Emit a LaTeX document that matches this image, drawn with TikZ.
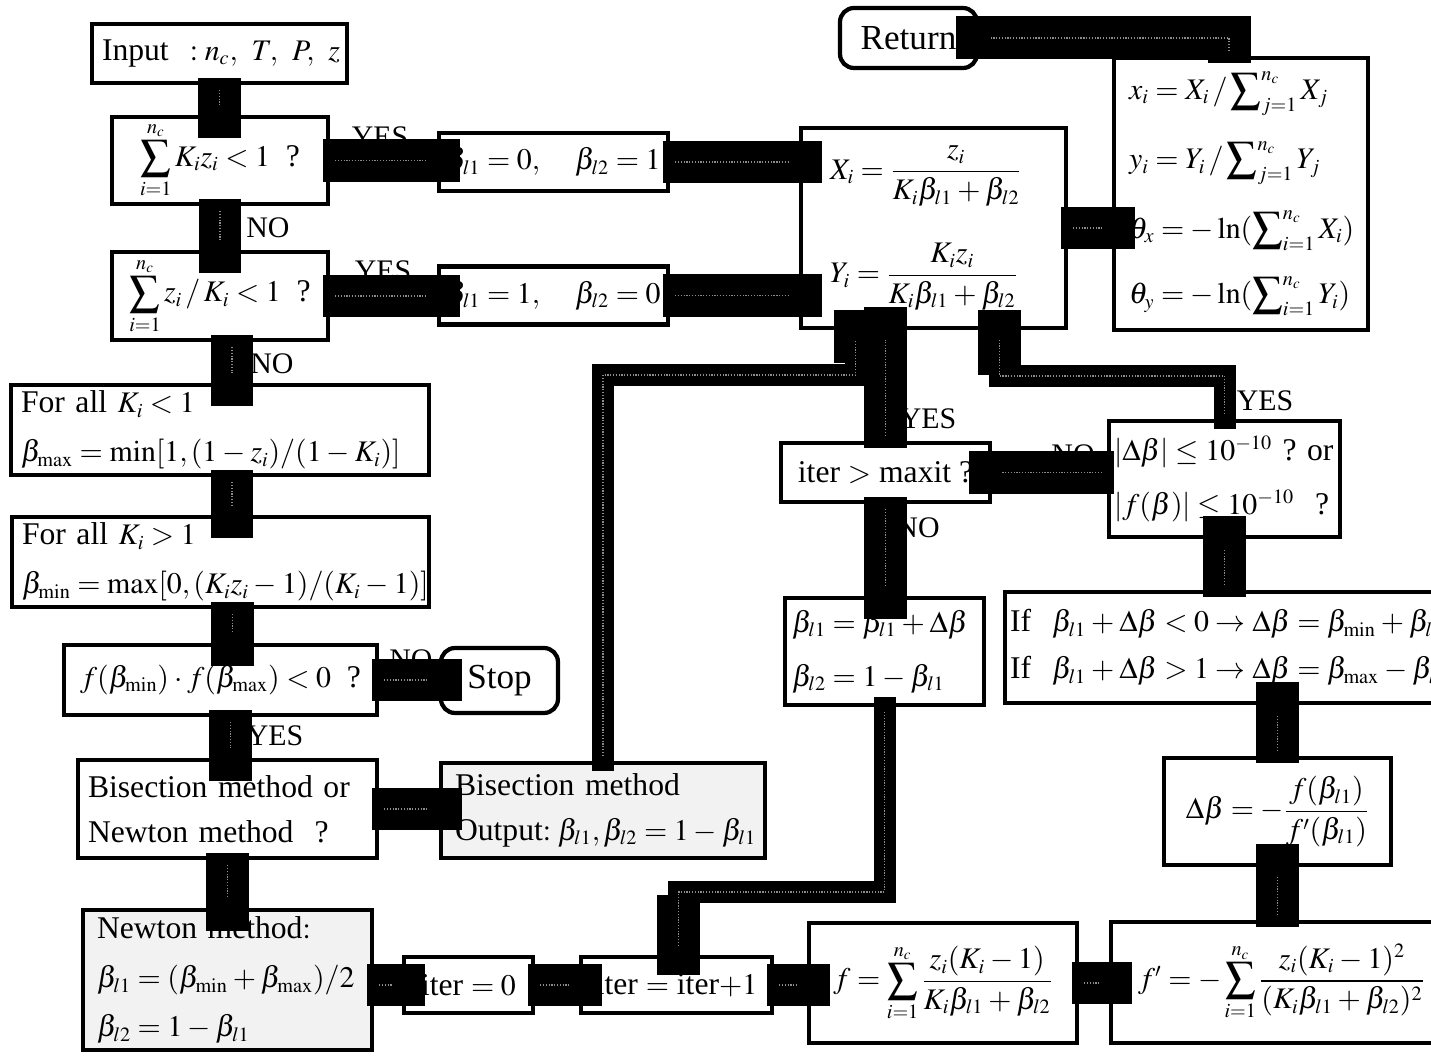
\documentclass[tikz,border=0pt]{standalone}
\usepackage{amsmath}
\usepackage{mathptmx}
\usepackage[no-math]{fontspec}
\setmainfont{Liberation Serif}
\usetikzlibrary{calc,arrows.meta}
\DeclareMathSizes{18}{17}{11.5}{8.5}
\newcommand\boxfont{\fontsize{18}{22}\selectfont\thickmuskip=4mu plus 2mu\medmuskip=3mu plus 1mu\relax}
\newcommand\bigfont{\fontsize{20}{24}\selectfont}
\newcommand\lblfont{\fontsize{17}{20}\selectfont}

\begin{document}
\begin{tikzpicture}[x=0.02cm, y=-0.02cm,
  box/.style={draw, line width=2.4pt, inner xsep=0.2cm, inner ysep=0pt, font=\boxfont},
  endbox/.style={box, rounded corners=0.28cm, font=\bigfont},
  shadebox/.style={box, fill=black!5},
  lbl/.style={inner sep=0pt, font=\lblfont},
  bar/.style={line width=0.86cm, line join=miter, shorten <=-0.14cm, shorten >=-0.46cm,
    postaction={draw=black!45, line width=1pt, dash pattern=on 0.7pt off 0.9pt, shorten <=0.1cm, shorten >=0.2cm}},
  lane/.style={line width=0.44cm, line join=miter, shorten <=-0.2cm, shorten >=-0.4cm,
    -{Rectangle[length=#1, width=0.87cm, line width=0pt]},
    postaction={draw=black!45, line width=1pt, dash pattern=on 0.7pt off 0.9pt, -, shorten <=0.1cm, shorten >=0.2cm}},
  lane/.default=1.1cm]
\useasboundingbox (0,0) rectangle (1431,1057);

\node[box, align=left, text width=4.7cm, minimum height=1.18cm] (input) at (219.5,53.5) {\mbox{Input\ \ $:n_c,\ T,\ P,\ z$}};
\node[box, minimum width=4.32cm, minimum height=1.74cm] (sumkz) at (220,160.5) {$\displaystyle\sum_{i=1}^{n_c} K_i z_i < 1$\ \ ?};
\node[box, minimum width=4.32cm, minimum height=1.76cm] (sumzk) at (220,296) {$\displaystyle\sum_{i=1}^{n_c} z_i \,/\, K_i < 1$\ \ ?};
\node[box, inner xsep=0.05cm, minimum width=4.58cm, minimum height=1.16cm] (bzero) at (553.5,162) {$\beta_{l1} = 0,\quad \beta_{l2} = 1$};
\node[box, inner xsep=0.05cm, minimum width=4.58cm, minimum height=1.16cm] (bone) at (553.5,295.5) {$\beta_{l1} = 1,\quad \beta_{l2} = 0$};
\node[box, align=left, inner xsep=0.58cm, text width=4.14cm, minimum height=4cm] (xy) at (933.5,228)
  {\mbox{$X_i = \dfrac{z_i}{K_i\beta_{l1} + \beta_{l2}}$}\\[20pt] \mbox{$Y_i = \dfrac{K_i z_i}{K_i\beta_{l1} + \beta_{l2}}$}};
\node[endbox, minimum width=2.74cm, minimum height=1.2cm] (ret) at (908.5,38) {Return};
\node[box, align=left, inner xsep=0.3cm, text width=4.48cm, minimum height=5.44cm] (xfrac) at (1241,194)
  {\mbox{$\displaystyle x_i = X_i \,/ \sum\nolimits_{j=1}^{n_c} X_j$}\\[14pt]
   \mbox{$\displaystyle y_i = Y_i \,/ \sum\nolimits_{j=1}^{n_c} Y_j$}\\[14pt]
   \mbox{$\displaystyle \theta_x = -\ln(\sum\nolimits_{i=1}^{n_c} X_i)$}\\[14pt]
   \mbox{$\displaystyle \theta_y = -\ln(\sum\nolimits_{i=1}^{n_c} Y_i)$}};
\node[box, align=left, text width=7.96cm, minimum height=1.8cm] (kless) at (220,430)
  {\mbox{For all $K_i < 1$}\\[6pt] \mbox{$\beta_{\max} = \min[1, (1 - z_i)/(1 - K_i)]$}};
\node[box, align=left, text width=7.94cm, minimum height=1.8cm] (kgreat) at (220.5,562)
  {\mbox{For all $K_i > 1$}\\[6pt] \mbox{$\beta_{\min} = \max[0, (K_i z_i - 1)/(K_i - 1)]$}};
\node[box, minimum width=6.26cm, minimum height=1.4cm] (ftest) at (220.5,680) {$f(\beta_{\min}) \cdot f(\beta_{\max}) < 0$\ \ ?};
\node[endbox, minimum width=2.34cm, minimum height=1.3cm] (stop) at (499.5,680.5) {Stop};
\node[box, align=left, text width=5.58cm, minimum height=1.96cm] (choose) at (227.5,809)
  {\mbox{Bisection method or}\\[3.5pt] \mbox{Newton method\ \ ?}};
\node[shadebox, align=left, inner xsep=0.28cm, text width=5.92cm, minimum height=1.9cm] (bisec) at (603,810.5)
  {\mbox{Bisection method}\\[3.5pt] \mbox{Output$: \beta_{l1}, \beta_{l2} = 1 - \beta_{l1}$}};
\node[shadebox, align=left, inner xsep=0.28cm, text width=5.22cm, minimum height=2.8cm] (newton) at (227.5,980)
  {\mbox{Newton method$:$}\\[6pt] \mbox{$\beta_{l1} = (\beta_{\min} + \beta_{\max})/2$}\\[6pt] \mbox{$\beta_{l2} = 1 - \beta_{l1}$}};
\node[box, minimum width=2.58cm, minimum height=1.12cm] (iterzero) at (468.5,985) {iter $= 0$};
\node[box, minimum width=3.82cm, minimum height=1.12cm] (iterinc) at (676.5,985) {iter $=$ iter$+1$};
\node[box, minimum width=5.36cm, minimum height=2.4cm] (fsum) at (943,983)
  {$f = \displaystyle\sum_{i=1}^{n_c} \frac{z_i(K_i - 1)}{K_i\beta_{l1} + \beta_{l2}}$};
\node[box, align=left, inner xsep=0.54cm, text width=5.9cm, minimum height=2.42cm] (fprime) at (1285.5,982.5)
  {\mbox{$f' = -\displaystyle\sum_{i=1}^{n_c} \frac{z_i(K_i - 1)^2}{(K_i\beta_{l1} + \beta_{l2})^2}$}};
\node[box, minimum width=4.54cm, minimum height=2.14cm] (dbeta) at (1277.5,811.5)
  {$\Delta\beta = -\dfrac{f(\beta_{l1})}{f'(\beta_{l1})}$};
\node[box, align=left, inner xsep=0.1cm, text width=8.9cm, minimum height=2.22cm] (clamp) at (1232.5,647.5)
  {\mbox{If\ \ $\beta_{l1} + \Delta\beta < 0 \rightarrow \Delta\beta = \beta_{\min} + \beta_{l1}$}\\[4.6pt]
   \mbox{If\ \ $\beta_{l1} + \Delta\beta > 1 \rightarrow \Delta\beta = \beta_{\max} - \beta_{l1}$}};
\node[box, align=left, inner xsep=0.1cm, text width=4.42cm, minimum height=2.32cm] (conv) at (1224.5,479)
  {\mbox{$\left|\Delta\beta\right| \le 10^{-10}$\ ?\ or}\\[9pt] \mbox{$\left|f(\beta)\right| \le 10^{-10}$\ \ ?}};
\node[box, minimum width=4.18cm, minimum height=1.18cm] (maxit) at (885.5,472.5) {iter $>$ maxit\ ?};
\node[box, align=left, inner xsep=0.14cm, text width=3.7cm, minimum height=2.14cm] (update) at (884.5,651.5)
  {\mbox{$\beta_{l1} = \beta_{l1} + \Delta\beta$}\\[9pt] \mbox{$\beta_{l2} = 1 - \beta_{l1}$}};

\node[lbl] (yes1) at (380,137) {YES};
\node[lbl] (no1) at (268,228) {NO};
\node[lbl] (yes2) at (383,271) {YES};
\node[lbl] (no2) at (272,364) {NO};
\node[lbl] (no3) at (411,660) {NO};
\node[lbl] (yes3) at (275,736) {YES};
\node[lbl] (yes4) at (928,419) {YES};
\node[lbl] (no4) at (918,528) {NO};
\node[lbl] (no5) at (1073,455) {NO};
\node[lbl] (yes5) at (1265,401) {YES};

\coordinate (nk) at ($(sumzk.south)+(12,0)$);
\coordinate (gk) at ($(kless.south)+(12,0)$);
\coordinate (fk) at ($(kgreat.south)+(12,0)$);
\coordinate (ck) at ($(ftest.south)+(10,0)$);
\coordinate (cy) at ($(xy.south)+(66,0)$);
\coordinate (by) at ($(xy.south)+(-78,0)$);
\coordinate (ui) at ($(iterinc.north)+(2,0)$);

\draw[bar] (input.south) -- (input.south |- sumkz.north);
\draw[bar] (sumkz.east) -- (sumkz.east -| bzero.west);
\draw[bar] (sumkz.south) -- (sumzk.north);
\draw[bar] (sumzk.east) -- (sumzk.east -| bone.west);
\draw[bar] (nk) -- (nk |- kless.north);
\draw[bar] (gk) -- (gk |- kgreat.north);
\draw[bar] (fk) -- (fk |- ftest.north);
\draw[bar] (ftest.east) -- (ftest.east -| stop.west);
\draw[bar] (ck) -- (ck |- choose.north);
\draw[bar] (choose.east) -- (choose.east -| bisec.west);
\draw[bar] (choose.south) -- (choose.south |- newton.north);
\draw[bar] (newton.east |- iterzero.west) -- (iterzero.west);
\draw[bar] (iterzero.east) -- (iterinc.west);
\draw[bar] (iterinc.east) -- (iterinc.east -| fsum.west);
\draw[bar] (fsum.east) -- (fsum.east -| fprime.west);
\draw[bar] (fprime.north -| dbeta.south) -- (dbeta.south);
\draw[bar] (dbeta.north) -- (dbeta.north |- clamp.south);
\draw[bar] (conv.south |- clamp.north) -- (conv.south);
\draw[bar] (conv.west |- maxit.east) -- (maxit.east);
\draw[bar] (maxit.north) -- (maxit.north |- xy.south);
\draw[bar] (maxit.south) -- (maxit.south |- update.north);
\draw[bar] (bzero.east) -- (bzero.east -| xy.west);
\draw[bar] (bone.east) -- (bone.east -| xy.west);
\draw[bar] (xy.east) -- (xy.east -| xfrac.west);
\draw[bar] ($(xfrac.north)+(-12,0)$) |- (ret.east);
\draw[lane=1.3cm] (conv.north) |- ($(cy)+(0,46)$) -- (cy);
\draw[lane=1.05cm] (bisec.north) |- ($(by)+(0,45)$) -- (by);
\draw[lane=1.6cm] (update.south) |- ($(ui)+(0,-63)$) -- (ui);
\end{tikzpicture}
\end{document}
